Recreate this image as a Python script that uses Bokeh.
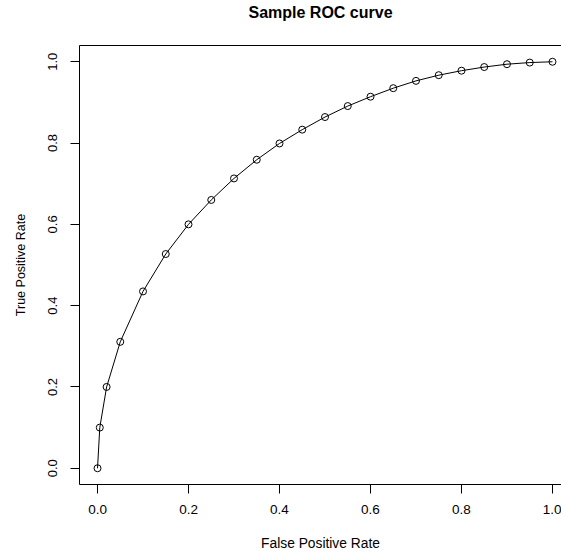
from bokeh.plotting import figure
from bokeh.models import FixedTicker, Range1d, LinearAxis, ColumnDataSource
from bokeh.embed import file_html
from bokeh.resources import INLINE

fpr = [0.0, 0.005, 0.02, 0.05, 0.1, 0.15, 0.2, 0.25, 0.3, 0.35, 0.4, 0.45,
       0.5, 0.55, 0.6, 0.65, 0.7, 0.75, 0.8, 0.85, 0.9, 0.95, 1.0]
tpr = [0.0, 0.1, 0.2, 0.311, 0.435, 0.527, 0.6, 0.66, 0.713, 0.759, 0.799, 0.833,
       0.864, 0.891, 0.914, 0.935, 0.953, 0.967, 0.978, 0.987, 0.994, 0.998, 1.0]
tick_vals = [0.0, 0.2, 0.4, 0.6, 0.8, 1.0]
tick_labels = ["0.0", "0.2", "0.4", "0.6", "0.8", "1.0"]

title_text = "Sample ROC curve"
x_title = "False Positive Rate"
y_title = "True Positive Rate"

FONT = "Liberation Sans"

src = ColumnDataSource(dict(x=fpr, y=tpr))

p = figure(width=561, height=558, output_backend="svg", toolbar_location=None,
           x_range=Range1d(-0.0396, 1.0198), y_range=Range1d(-0.04, 1.04),
           min_border_left=79, min_border_right=0, min_border_top=44,
           min_border_bottom=74, x_axis_location=None, y_axis_location=None)
p.background_fill_color = "white"
p.border_fill_color = "white"
p.outline_line_color = None
p.xgrid.visible = False
p.ygrid.visible = False
p.title.text = ""
p.title.visible = False

def style_axis(ax, tick_size, label_size):
    ax.ticker = FixedTicker(ticks=tick_vals)
    ax.major_label_overrides = {v: s for v, s in zip(tick_vals, tick_labels)}
    ax.major_tick_out = 9
    ax.major_tick_in = 0
    ax.minor_tick_line_color = None
    ax.axis_line_color = "black"
    ax.major_tick_line_color = "black"
    ax.major_label_text_font = FONT
    ax.major_label_text_font_size = tick_size
    ax.major_label_text_color = "black"
    ax.axis_label_text_font = FONT
    ax.axis_label_text_font_size = label_size
    ax.axis_label_text_font_style = "normal"
    ax.axis_label_text_color = "black"

xax = LinearAxis(axis_label=x_title)
style_axis(xax, "13.5px", "13.8px")
xax.major_label_standoff = 11
xax.axis_label_standoff = 19
p.add_layout(xax, "below")

yax = LinearAxis(axis_label=y_title)
style_axis(yax, "13px", "12.5px")
yax.major_label_orientation = "vertical"
yax.major_label_standoff = 13
yax.axis_label_standoff = 18
p.add_layout(yax, "left")

# top border of the box, carrying the bold main title
top = LinearAxis(ticker=FixedTicker(ticks=[]), axis_label=title_text,
                 major_tick_line_color=None, minor_tick_line_color=None,
                 axis_line_color="black", major_tick_out=0, major_tick_in=0,
                 major_label_standoff=0, axis_label_standoff=25,
                 axis_label_text_font=FONT, axis_label_text_font_size="16px",
                 axis_label_text_font_style="bold", axis_label_text_color="black")
p.add_layout(top, "above")

p.line("x", "y", source=src, line_color="black", line_width=1)
p.scatter("x", "y", source=src, marker="circle", size=7, fill_color=None,
          line_color="black", line_width=1)

open("out.html", "w").write(file_html(p, INLINE))
